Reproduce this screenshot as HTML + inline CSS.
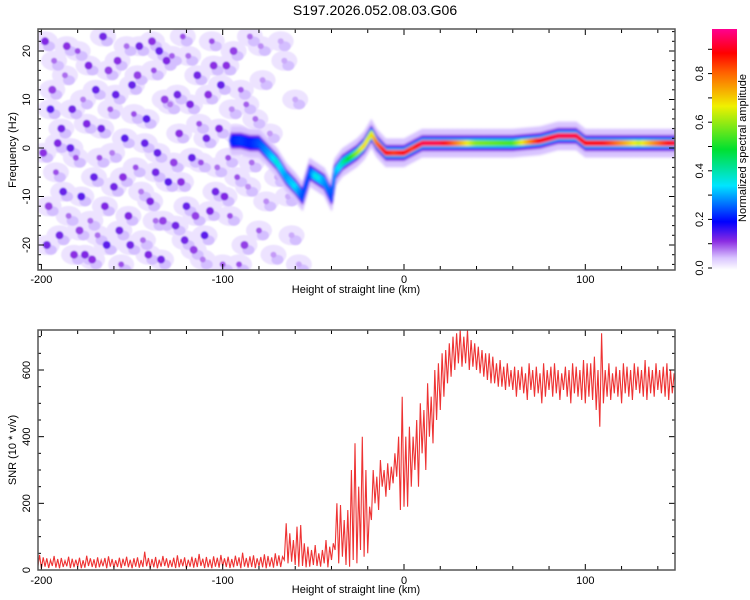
<!DOCTYPE html>
<html><head><meta charset="utf-8"><style>
body{margin:0;background:#fff;}
svg{display:block;font-family:"Liberation Sans",sans-serif;}
</style></head><body>
<svg id="chart" width="750" height="600" viewBox="0 0 750 600">
<defs>
<linearGradient id="cbar" x1="0" y1="1" x2="0" y2="0">
<stop offset="0" stop-color="#ffffff"/><stop offset="0.05" stop-color="#d9c4ff"/><stop offset="0.12" stop-color="#8a2be2"/>
<stop offset="0.2" stop-color="#0000ff"/><stop offset="0.35" stop-color="#00e5ff"/><stop offset="0.5" stop-color="#00e030"/>
<stop offset="0.68" stop-color="#f0f000"/><stop offset="0.82" stop-color="#ff6000"/><stop offset="0.9" stop-color="#ff0000"/><stop offset="1" stop-color="#ff0090"/>
</linearGradient>
<clipPath id="clipTop"><rect x="38" y="29" width="637" height="241"/></clipPath>
<clipPath id="clipBot"><rect x="38" y="330" width="637" height="240"/></clipPath>
<filter id="blur1"><feGaussianBlur stdDeviation="1.2"/></filter>
<filter id="blur0"><feGaussianBlur stdDeviation="0.7"/></filter>
</defs>
<text x="375" y="15" text-anchor="middle" font-size="14" fill="#000">S197.2026.052.08.03.G06</text>
<g id="topPlot"></g>
<g id="botPlot"></g>
<g id="cb"></g>
</svg>
<script>
// ---- data ----
const xTicks = [-200, -100, 0, 100];
const freqTicks = [-20, -10, 0, 10, 20];
const snrTicks = [0, 200, 400, 600];
const cbTicks = [0.0, 0.2, 0.4, 0.6, 0.8];
const ridgeX = [-95,-90,-85,-80,-75,-70,-65,-60,-56,-52,-48,-44,-40,-38,-34,-30,-26,-22,-18,-15,-10,-5,0,5,10,20,40,60,75,85,95,100,110,130,150];
const ridgeF = [1.5,1.5,1,1,-1,-3,-6,-8,-10,-5,-6,-7,-10,-5,-3,-2,-1,0.5,3,1,-1,-1,-1,0,1,1,1,1,1.5,2.5,2.5,1,1,1,1];
const ridgeA = [0.22,0.24,0.22,0.25,0.3,0.38,0.3,0.35,0.25,0.25,0.38,0.3,0.25,0.3,0.4,0.5,0.6,0.7,0.65,0.8,0.9,0.85,0.9,0.85,0.95,0.95,0.6,0.55,0.9,0.95,0.95,0.9,0.9,0.65,0.95];
const noiseBlobs = [
[-198,22,0.15],[-195,8,0.18],[-192,-5,0.12],[-190,-18,0.16],[-187,15,0.1],[-184,0,0.17],[-182,-22,0.14],[-180,20,0.12],
[-178,-10,0.18],[-175,5,0.15],[-173,-15,0.1],[-170,12,0.17],[-168,-2,0.12],[-166,23,0.16],[-164,-20,0.18],[-162,8,0.11],
[-160,-8,0.16],[-158,18,0.14],[-156,-24,0.12],[-154,2,0.18],[-152,-14,0.15],[-150,13,0.17],[-148,-4,0.12],[-146,21,0.16],
[-144,-19,0.1],[-142,6,0.18],[-140,-11,0.15],[-138,16,0.12],[-136,-1,0.17],[-134,-23,0.16],[-132,10,0.13],[-130,-7,0.18],
[-128,19,0.11],[-126,-16,0.16],[-124,3,0.14],[-122,23,0.12],[-120,-12,0.17],[-118,9,0.15],[-116,-21,0.13],[-114,15,0.16],
[-112,-3,0.12],[-110,-18,0.18],[-108,11,0.14],[-106,22,0.12],[-104,-9,0.16],[-102,4,0.15],[-100,-24,0.11],[-98,17,0.14],
[-96,-14,0.12],[-94,20,0.13],[-92,-6,0.12],[-90,12,0.11],[-88,-20,0.13],[-85,23,0.1],[-82,6,0.1],[-80,-17,0.11],
[-196,-12,0.13],[-189,4,0.16],[-181,-2,0.12],[-176,-22,0.15],[-171,-6,0.17],[-163,16,0.13],[-157,-17,0.16],[-149,7,0.12],
[-141,-22,0.15],[-135,20,0.17],[-127,-3,0.13],[-121,-19,0.16],[-113,5,0.12],[-107,-13,0.15],[-101,13,0.17],[-97,-2,0.12],
[-193,18,0.1],[-185,-14,0.1],[-177,10,0.09],[-169,-18,0.1],[-161,-1,0.09],[-153,21,0.1],[-145,-9,0.09],[-137,-15,0.1],
[-129,9,0.09],[-119,19,0.1],[-111,-23,0.09],[-103,-4,0.1],[-95,8,0.08],[-86,-8,0.08],[-78,14,0.07],[-72,-22,0.07],
[-66,18,0.06],[-62,-18,0.06],[-60,10,0.06],[-58,-24,0.06],
[-199,-1,0.14],[-197,-20,0.16],[-194,12,0.13],[-191,1,0.15],[-188,-9,0.17],[-186,21,0.14],[-183,8,0.16],[-179,-17,0.13],
[-174,17,0.15],[-172,-23,0.14],[-167,4,0.16],[-165,-12,0.15],[-159,11,0.17],[-155,-6,0.14],[-151,-20,0.16],[-147,15,0.13],
[-143,1,0.17],[-139,22,0.14],[-137,-5,0.16],[-133,-15,0.13],[-131,18,0.15],[-125,11,0.16],[-123,-7,0.14],[-117,-2,0.17],
[-115,-14,0.13],[-109,2,0.16],[-105,17,0.14],[-99,-10,0.15],[-93,3,0.13],[-91,-24,0.12],[-87,9,0.11],[-84,-3,0.1],
[-79,21,0.08],[-76,-11,0.08],[-74,3,0.07],[-70,-6,0.06],[-64,-10,0.06],[-68,22,0.06]
];
const snrLow = [8,5,10,6,12,7,5,9,11,6,8,10,5,7,12,9,6,8,11,5,10,7,9,6,12,8,5,10,7,9,11,6,8,5,10,12,7,9,6,8,11,5,10,7,9,12,6,8,5,10,7,11,9,6,8,12,5,10,7,9,6,11,8,5,10,7,12,9,
30,20,25,15,10,12,8,10,15,12,10,20,8,30,
60,20,40,15,10,30,20,60,40,50,
150,200,180,250,220,240,260,280,180,190,
190,250,300,250,350,300,400,380,450,480,
520,560,580,600,620,610,620,600,610,600,
590,580,570,560,560,550,550,540,550,540,
520,540,530,510,540,520,530,500,520,540,520,530,510,540,520,500,530,520,510,500,
520,510,480,430,500,520,510,530,520,500,530,520,510,540,530,520,510,530,520,540,530,520,510,530,540];
const snrHigh = [45,38,35,30,42,33,36,28,40,34,31,37,29,43,35,32,38,30,36,41,33,29,37,34,40,31,35,38,30,55,36,33,39,31,42,35,30,37,44,33,38,31,40,36,48,34,39,32,41,37,45,35,40,33,43,38,52,36,41,44,35,39,47,42,38,50,44,40,
140,110,90,130,135,80,70,60,75,50,60,90,70,80,
200,195,150,180,300,380,250,400,300,190,
300,280,330,300,320,310,350,400,520,400,
430,400,450,500,480,560,520,600,620,650,
660,680,700,710,720,700,720,690,680,670,
660,650,650,640,620,630,610,620,600,610,
600,610,590,620,600,610,590,620,600,610,620,600,590,610,600,620,610,600,630,620,
620,640,600,710,600,620,590,610,600,620,610,600,620,610,600,630,610,600,620,600,610,620,600,590,610];
const snrX0 = -202, snrStep = 2;

// ---- scales ----
const X0=38, X1=675;
const xScale = v => 404 + v*1.813;
const fScale = f => 148 - f*4.85;
const sScale = s => 570 - s/3;
const NS="http://www.w3.org/2000/svg";
function mk(tag, parent, attrs){const e=document.createElementNS(NS,tag);for(const k in attrs)e.setAttribute(k,attrs[k]);parent.appendChild(e);return e;}
function cmap(a){
  const st=[[0,[255,255,255]],[0.05,[217,196,255]],[0.12,[138,43,226]],[0.2,[0,0,255]],[0.35,[0,229,255]],[0.5,[0,224,48]],[0.68,[240,240,0]],[0.82,[255,96,0]],[0.9,[255,0,0]],[1,[255,0,144]]];
  for(let i=1;i<st.length;i++){if(a<=st[i][0]){const t=(a-st[i-1][0])/(st[i][0]-st[i-1][0]);const c=st[i-1][1].map((v,j)=>Math.round(v+(st[i][1][j]-v)*t));return 'rgb('+c.join(',')+')';}}
  return 'rgb(255,0,144)';
}

// ---- top panel ----
const topP=document.getElementById('topPlot');
const tg=mk('g',topP,{'clip-path':'url(#clipTop)'});
const ng=mk('g',tg,{filter:'url(#blur0)'});


noiseBlobs.forEach(b=>{
  const h=mk('ellipse',ng,{cx:xScale(b[0]),cy:fScale(b[1]),rx:13,ry:10,fill:'#ede3ff'});
  
  
});
noiseBlobs.forEach(b=>{
  const h=mk('ellipse',ng,{cx:xScale(b[0])+4,cy:fScale(b[1])+5,rx:6,ry:5,fill:'#d4bfff'});
  
  
});
noiseBlobs.forEach(b=>{
  const c=mk('circle',ng,{cx:xScale(b[0]),cy:fScale(b[1]),r:b[2]>0.12?4:3,fill:cmap(b[2]*0.7+0.02)});
  
  
});
// ridge
const rg=mk('g',tg,{filter:'url(#blur1)'});


const pts=[];
for(let i=0;i<ridgeX.length-1;i++){
  for(let x=ridgeX[i];x<ridgeX[i+1];x+=0.5){const t=(x-ridgeX[i])/(ridgeX[i+1]-ridgeX[i]);pts.push([x,ridgeF[i]+(ridgeF[i+1]-ridgeF[i])*t,ridgeA[i]+(ridgeA[i+1]-ridgeA[i])*t]);}
}
pts.push([ridgeX[ridgeX.length-1],ridgeF[ridgeF.length-1],ridgeA[ridgeA.length-1]]);
const layers=[[3.0,0.05],[1.7,0.12],[1.3,0.2],[1.0,0.32],[0.6,-1]];
layers.forEach(L=>{
  pts.forEach(p=>{
    const a=L[1]<0?p[2]:Math.min(L[1],p[2]);
    const e=mk('ellipse',rg,{cx:xScale(p[0]),cy:fScale(p[1]),rx:2,ry:L[0]*4.85,fill:cmap(a)});
    
    
  });
});
function frame(y0,y1,name){
  const r=mk('rect',document.getElementById('chart'),{x:X0,y:y0,width:X1-X0,height:y1-y0,fill:'none',stroke:'#555',"stroke-width":1.5});
  
  
}
frame(29,270,'spectrogram-frame');
function xAxis(parent,y0,y1,labelY,titleY){
  for(let v=-200;v<=150;v+=20){const x=xScale(v);const big=v%100===0;
    mk('line',parent,{x1:x,x2:x,y1:y0,y2:y0+(big?6:4),stroke:'#000'});
    mk('line',parent,{x1:x,x2:x,y1:y1,y2:y1-(big?6:4),stroke:'#000'});}
  xTicks.forEach(v=>{const t=mk('text',parent,{x:xScale(v),y:labelY,'text-anchor':'middle','font-size':11});t.textContent=v;
    
    });
  const tt=mk('text',parent,{x:356,y:titleY,'text-anchor':'middle','font-size':11});tt.textContent='Height of straight line (km)';
  
  
}
xAxis(topP,29,270,283,293);
for(let f=-24;f<=24;f+=2){const y=fScale(f);const big=f%10===0;
  mk('line',topP,{x1:X0,x2:X0+(big?6:3),y1:y,y2:y,stroke:'#000'});
  mk('line',topP,{x1:X1,x2:X1-(big?6:3),y1:y,y2:y,stroke:'#000'});}
freqTicks.forEach(f=>{const t=mk('text',topP,{x:30,y:fScale(f),'text-anchor':'middle','font-size':11,transform:'rotate(-90 30 '+fScale(f)+')'});t.textContent=f;
  
  });
const yt=mk('text',topP,{x:16,y:150,'text-anchor':'middle','font-size':11,transform:'rotate(-90 16 150)'});yt.textContent='Frequency (Hz)';



// ---- bottom panel ----
const botP=document.getElementById('botPlot');
const bg=mk('g',botP,{'clip-path':'url(#clipBot)'});
let d='';
const n=Math.min(snrLow.length,snrHigh.length);
for(let i=0;i<n;i++){const x=snrX0+i*snrStep;
  d+=(i?'L':'M')+xScale(x).toFixed(1)+','+sScale(snrLow[i]).toFixed(1)+'L'+xScale(x+snrStep*0.5).toFixed(1)+','+sScale(snrHigh[i]).toFixed(1);}
const snrLine=mk('path',bg,{d:d,fill:'none',stroke:'#ee3333','stroke-width':1.1});


frame(330,570,'snr-frame');
xAxis(botP,330,570,584,593);
for(let s=0;s<=700;s+=50){const y=sScale(s);const big=s%200===0;
  mk('line',botP,{x1:X0,x2:X0+(big?6:3),y1:y,y2:y,stroke:'#000'});
  mk('line',botP,{x1:X1,x2:X1-(big?6:3),y1:y,y2:y,stroke:'#000'});}
snrTicks.forEach(s=>{const t=mk('text',botP,{x:30,y:sScale(s),'text-anchor':'middle','font-size':11,transform:'rotate(-90 30 '+sScale(s)+')'});t.textContent=s;
  
  });
const snrT=mk('text',botP,{x:16,y:450,'text-anchor':'middle','font-size':11,transform:'rotate(-90 16 450)'});snrT.textContent='SNR (10 * v/v)';



// ---- colorbar ----
const cbG=document.getElementById('cb');
const cbY=v=>268-v*243;
const cr=mk('rect',cbG,{x:712,y:29,width:25,height:241,fill:'url(#cbar)'});


for(let v=0;v<=0.95;v+=0.1){mk('line',cbG,{x1:708,x2:712,y1:cbY(v),y2:cbY(v),stroke:'#000'});}
cbTicks.forEach(v=>{const t=mk('text',cbG,{x:703,y:cbY(v),'text-anchor':'middle','font-size':11,transform:'rotate(-90 703 '+cbY(v)+')'});t.textContent=v.toFixed(1);
  
  });
const ct=mk('text',cbG,{x:746,y:148,'text-anchor':'middle','font-size':11,transform:'rotate(-90 746 148)'});ct.textContent='Normalized spectral amplitude';


</script>
</body></html>
